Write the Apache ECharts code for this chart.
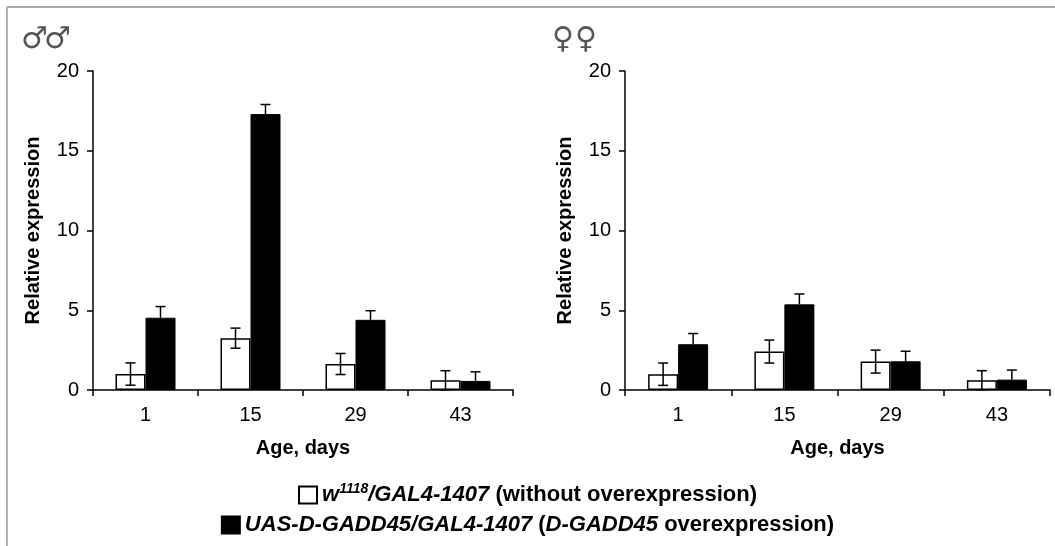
<!DOCTYPE html>
<html>
<head>
<meta charset="utf-8">
<script src="https://cdn.jsdelivr.net/npm/echarts@6/dist/echarts.min.js"></script>
<style>
html,body{margin:0;padding:0;background:#fff;}
#chart{width:1055px;height:546px;}
</style>
</head>
<body>
<div id="chart"></div>
<script>
// ---- data ----
const categories = ['1', '15', '29', '43'];
const yTicks = [0, 5, 10, 15, 20];
const maleControl = [1.0, 3.25, 1.63, 0.61];
const maleControlErr = [0.7, 0.63, 0.66, 0.6];
const maleOver = [4.53, 17.3, 4.4, 0.57];
const maleOverErr = [0.7, 0.6, 0.57, 0.57];
const femaleControl = [0.99, 2.41, 1.78, 0.61];
const femaleControlErr = [0.7, 0.72, 0.72, 0.6];
const femaleOver = [2.87, 5.37, 1.8, 0.65];
const femaleOverErr = [0.67, 0.65, 0.63, 0.6];
const seriesNames = ['w1118/GAL4-1407', 'UAS-D-GADD45/GAL4-1407'];
const maleSign = '\u2642';
const femaleSign = '\u2640';

// ---- styling ----
const FONT = 'Liberation Sans, Arial, sans-serif';
const SYM_FONT = 'DejaVu Sans ExtraLight, DejaVu Sans, sans-serif';
const BAR_W = 30;
const CAP = 5;

function errSeries(xi, yi, means, errs, sign, both) {
  return {
    type: 'custom',
    xAxisIndex: xi, yAxisIndex: yi,
    z: 10,
    silent: true,
    data: means.map((m, i) => [i, m, errs[i]]),
    renderItem: function (params, api) {
      const i = api.value(0), m = api.value(1), e = api.value(2);
      const off = sign * BAR_W / 2;
      const topP = api.coord([i, m + e]);
      const midP = api.coord([i, m]);
      const botP = api.coord([i, Math.max(0, m - e)]);
      const x = topP[0] + off;
      const st = { stroke: '#000', lineWidth: 1.5 };
      const children = [
        { type: 'line', shape: { x1: x, y1: topP[1], x2: x, y2: both ? botP[1] : midP[1] }, style: st },
        { type: 'line', shape: { x1: x - CAP, y1: topP[1], x2: x + CAP, y2: topP[1] }, style: st }
      ];
      if (both) {
        children.push({ type: 'line', shape: { x1: x - CAP, y1: botP[1], x2: x + CAP, y2: botP[1] }, style: st });
      }
      return { type: 'group', children: children };
    }
  };
}

function xAxis(gi) {
  return {
    type: 'category', gridIndex: gi, data: categories,
    name: 'Age, days', nameLocation: 'middle', nameGap: 48,
    nameTextStyle: { fontFamily: FONT, fontSize: 20, fontWeight: 'bold', color: '#000' },
    axisLine: { lineStyle: { color: '#000', width: 1.5 } },
    axisTick: { show: true, interval: 0, length: 6, lineStyle: { color: '#000', width: 1.5 } },
    axisLabel: { fontFamily: FONT, fontSize: 20, color: '#000', margin: 15, interval: 0 }
  };
}
function yAxis(gi) {
  return {
    type: 'value', gridIndex: gi, min: yTicks[0], max: yTicks[yTicks.length - 1], interval: 5,
    name: 'Relative expression', nameLocation: 'middle', nameGap: 50, nameRotate: 90,
    nameTextStyle: { fontFamily: FONT, fontSize: 20, fontWeight: 'bold', color: '#000' },
    axisLine: { show: true, lineStyle: { color: '#000', width: 1.5 } },
    axisTick: { show: true, length: 6, lineStyle: { color: '#000', width: 1.5 } },
    axisLabel: { fontFamily: FONT, fontSize: 20, color: '#000', margin: 14 },
    splitLine: { show: false }
  };
}

const whiteStyle = { color: '#fff', borderColor: '#000', borderWidth: 1.5 };
const blackStyle = { color: '#000', borderColor: '#000', borderWidth: 1 };

function barSeries(name, xi, data, style) {
  return {
    type: 'bar', name: name, xAxisIndex: xi, yAxisIndex: xi, data: data,
    barWidth: BAR_W, barGap: '0%', itemStyle: style, silent: true
  };
}

const legendText = {
  fontFamily: FONT, fontSize: 22, fontWeight: 'bold', color: '#000',
  rich: {
    i: { fontFamily: FONT, fontSize: 22, fontWeight: 'bold', fontStyle: 'italic', color: '#000', lineHeight: 26 },
    n: { fontFamily: FONT, fontSize: 22, fontWeight: 'bold', color: '#000', lineHeight: 26 },
    sup: { fontFamily: FONT, fontSize: 14, fontWeight: 'bold', fontStyle: 'italic', color: '#000', verticalAlign: 'top', lineHeight: 26 }
  }
};

function sym(ch, x) {
  return { type: 'text', left: x, top: 25, style: { text: ch, fontFamily: SYM_FONT, fontSize: 30, fill: '#555' } };
}

const chart = echarts.init(document.getElementById('chart'), null, { renderer: 'canvas' });
chart.setOption({
  backgroundColor: '#fff',
  animation: false,
  grid: [
    { left: 93, top: 71, width: 420, height: 319 },
    { left: 625, top: 71, width: 425, height: 319 }
  ],
  xAxis: [xAxis(0), xAxis(1)],
  yAxis: [yAxis(0), yAxis(1)],
  legend: [
    {
      data: [{ name: seriesNames[0], icon: 'rect' }], left: 'center', top: 477, itemWidth: 18, itemHeight: 17, itemGap: 8,
      selectedMode: false, textStyle: legendText,
      formatter: () => '{i|w}{sup|1118}{i|/GAL4-1407} {n|(without overexpression)}'
    },
    {
      data: [{ name: seriesNames[1], icon: 'rect' }], left: 'center', top: 509, itemWidth: 18, itemHeight: 17, itemGap: 8,
      selectedMode: false, textStyle: legendText,
      formatter: () => '{i|UAS-D-GADD45/GAL4-1407} {n|(}{i|D-GADD45}{n| overexpression)}'
    }
  ],
  graphic: [
    { type: 'line', shape: { x1: 7, y1: 7, x2: 1055, y2: 7 }, style: { stroke: '#a8a8a8', lineWidth: 2 } },
    { type: 'line', shape: { x1: 7, y1: 7, x2: 7, y2: 546 }, style: { stroke: '#b4b4b4', lineWidth: 2 } },
    sym(maleSign, 21), sym(maleSign, 44),
    sym(femaleSign, 552), sym(femaleSign, 575)
  ],
  series: [
    barSeries(seriesNames[0], 0, maleControl, whiteStyle),
    barSeries(seriesNames[1], 0, maleOver, blackStyle),
    barSeries(seriesNames[0], 1, femaleControl, whiteStyle),
    barSeries(seriesNames[1], 1, femaleOver, blackStyle),
    errSeries(0, 0, maleControl, maleControlErr, -1, true),
    errSeries(0, 0, maleOver, maleOverErr, 1, false),
    errSeries(1, 1, femaleControl, femaleControlErr, -1, true),
    errSeries(1, 1, femaleOver, femaleOverErr, 1, false)
  ]
});
</script>
</body>
</html>
